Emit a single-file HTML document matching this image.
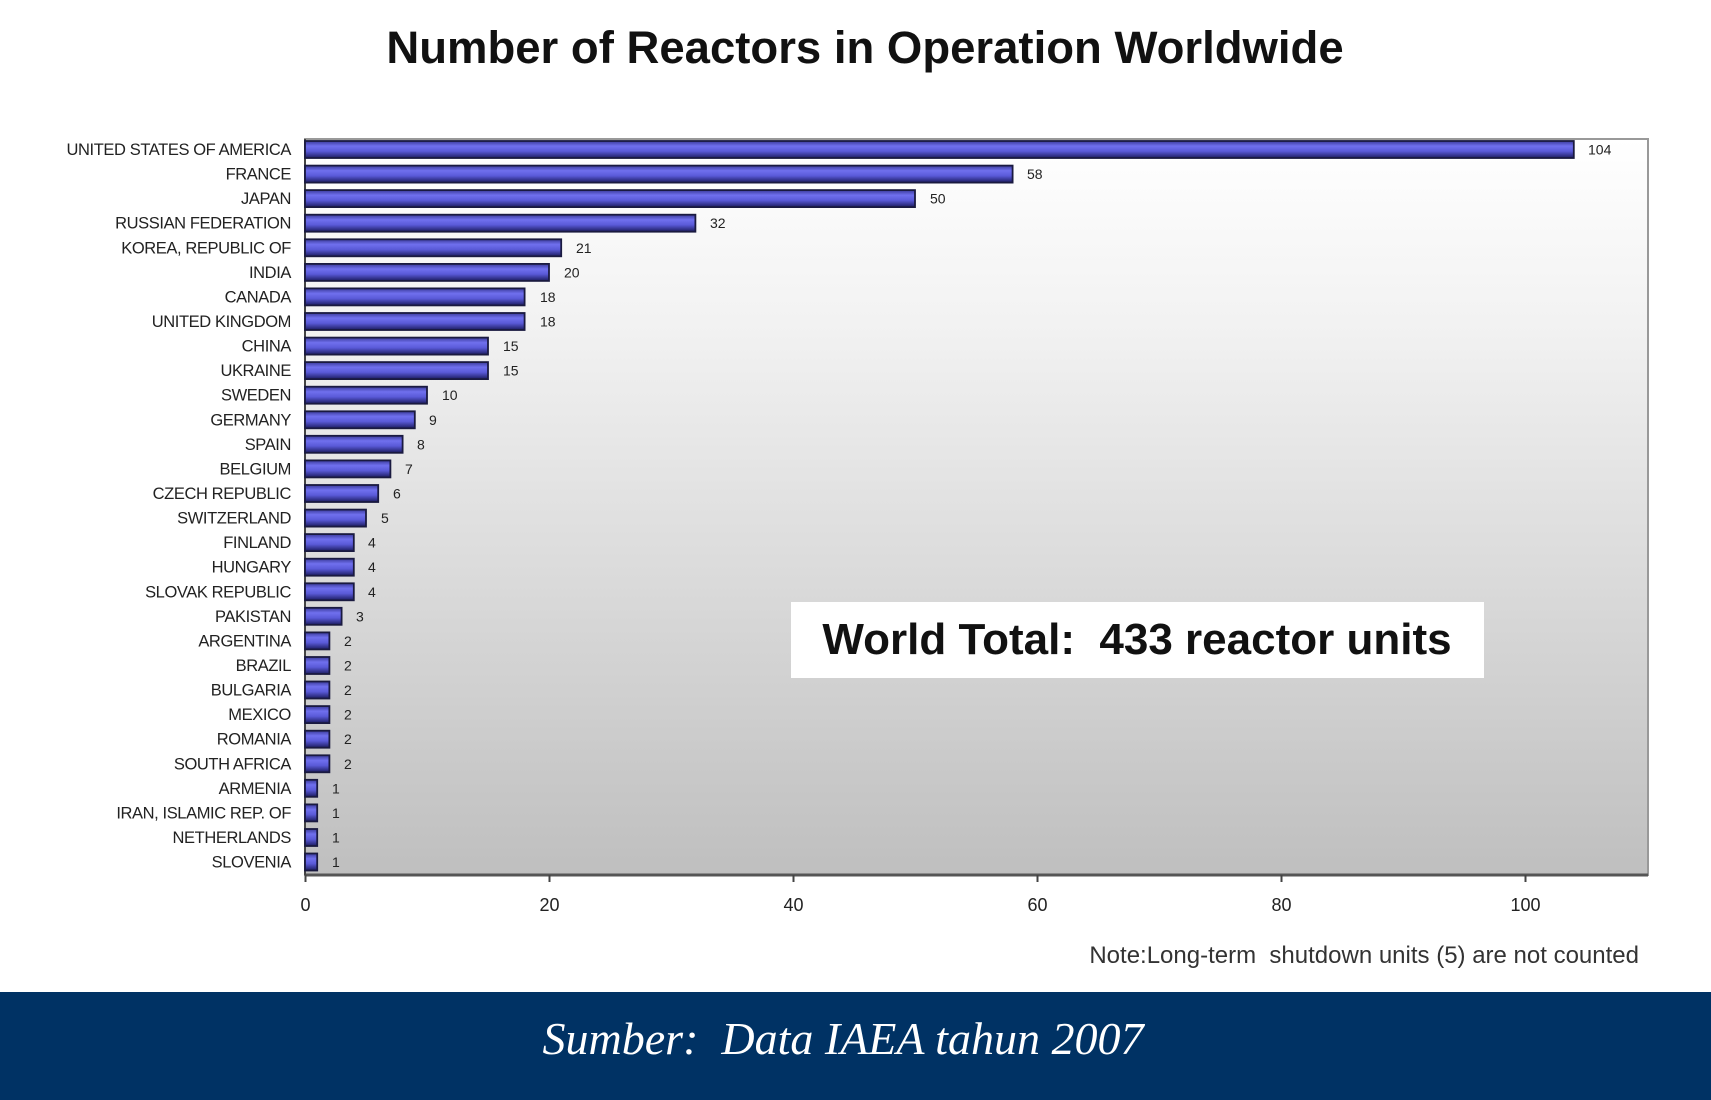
<!DOCTYPE html>
<html><head><meta charset="utf-8"><style>
html,body{margin:0;padding:0;background:#fff;}
svg{display:block;}
.l{font-family:"Liberation Sans",sans-serif;font-size:16.5px;fill:#222;letter-spacing:-0.4px;}
.v{font-family:"Liberation Sans",sans-serif;font-size:14px;fill:#222;}
</style></head><body>
<svg width="1711" height="1100" viewBox="0 0 1711 1100" xmlns="http://www.w3.org/2000/svg">
<defs>
<linearGradient id="bg" x1="0" y1="0" x2="0" y2="1"><stop offset="0" stop-color="#ffffff"/><stop offset="0.25" stop-color="#f2f2f2"/><stop offset="1" stop-color="#bfbfbf"/></linearGradient>
<linearGradient id="bar" x1="0" y1="0" x2="0" y2="1"><stop offset="0" stop-color="#3a3a9a"/><stop offset="0.3" stop-color="#7070ee"/><stop offset="0.6" stop-color="#5a5ad8"/><stop offset="1" stop-color="#1c1c60"/></linearGradient>
</defs>
<text x="865" y="63" text-anchor="middle" font-family="Liberation Sans, sans-serif" font-weight="bold" font-size="45.5" fill="#111">Number of Reactors in Operation Worldwide</text>
<rect x="305" y="139" width="1343" height="736" fill="url(#bg)" stroke="#999" stroke-width="2"/>
<line x1="305" y1="875" x2="1648" y2="875" stroke="#555" stroke-width="3"/>
<line x1="305" y1="139" x2="305" y2="875" stroke="#444" stroke-width="2"/>
<g stroke="#444" stroke-width="2">
<line x1="305.5" y1="875" x2="305.5" y2="882"/><line x1="549.5" y1="875" x2="549.5" y2="882"/><line x1="793.5" y1="875" x2="793.5" y2="882"/><line x1="1037.5" y1="875" x2="1037.5" y2="882"/><line x1="1281.5" y1="875" x2="1281.5" y2="882"/><line x1="1525.5" y1="875" x2="1525.5" y2="882"/>
</g>
<g font-family="Liberation Sans, sans-serif" font-size="18" fill="#222" text-anchor="middle">
<text x="305.5" y="911">0</text><text x="549.5" y="911">20</text><text x="793.5" y="911">40</text><text x="1037.5" y="911">60</text><text x="1281.5" y="911">80</text><text x="1525.5" y="911">100</text>
</g>
<g stroke="#1a1a40" stroke-width="1.8">
<rect x="305" y="141" width="1268.8" height="17" fill="url(#bar)"/>
<rect x="305" y="165.6" width="707.6" height="17" fill="url(#bar)"/>
<rect x="305" y="190.1" width="610" height="17" fill="url(#bar)"/>
<rect x="305" y="214.7" width="390.4" height="17" fill="url(#bar)"/>
<rect x="305" y="239.3" width="256.2" height="17" fill="url(#bar)"/>
<rect x="305" y="263.9" width="244" height="17" fill="url(#bar)"/>
<rect x="305" y="288.4" width="219.6" height="17" fill="url(#bar)"/>
<rect x="305" y="313" width="219.6" height="17" fill="url(#bar)"/>
<rect x="305" y="337.6" width="183" height="17" fill="url(#bar)"/>
<rect x="305" y="362.1" width="183" height="17" fill="url(#bar)"/>
<rect x="305" y="386.7" width="122" height="17" fill="url(#bar)"/>
<rect x="305" y="411.3" width="109.8" height="17" fill="url(#bar)"/>
<rect x="305" y="435.8" width="97.6" height="17" fill="url(#bar)"/>
<rect x="305" y="460.4" width="85.4" height="17" fill="url(#bar)"/>
<rect x="305" y="485" width="73.2" height="17" fill="url(#bar)"/>
<rect x="305" y="509.6" width="61" height="17" fill="url(#bar)"/>
<rect x="305" y="534.1" width="48.8" height="17" fill="url(#bar)"/>
<rect x="305" y="558.7" width="48.8" height="17" fill="url(#bar)"/>
<rect x="305" y="583.3" width="48.8" height="17" fill="url(#bar)"/>
<rect x="305" y="607.8" width="36.6" height="17" fill="url(#bar)"/>
<rect x="305" y="632.4" width="24.4" height="17" fill="url(#bar)"/>
<rect x="305" y="657" width="24.4" height="17" fill="url(#bar)"/>
<rect x="305" y="681.5" width="24.4" height="17" fill="url(#bar)"/>
<rect x="305" y="706.1" width="24.4" height="17" fill="url(#bar)"/>
<rect x="305" y="730.7" width="24.4" height="17" fill="url(#bar)"/>
<rect x="305" y="755.3" width="24.4" height="17" fill="url(#bar)"/>
<rect x="305" y="779.8" width="12.2" height="17" fill="url(#bar)"/>
<rect x="305" y="804.4" width="12.2" height="17" fill="url(#bar)"/>
<rect x="305" y="829" width="12.2" height="17" fill="url(#bar)"/>
<rect x="305" y="853.5" width="12.2" height="17" fill="url(#bar)"/>
</g>
<g class="l" text-anchor="end">
<text class="l" x="291" y="155">UNITED STATES OF AMERICA</text>
<text class="l" x="291" y="179.6">FRANCE</text>
<text class="l" x="291" y="204.1">JAPAN</text>
<text class="l" x="291" y="228.7">RUSSIAN FEDERATION</text>
<text class="l" x="291" y="253.3">KOREA, REPUBLIC OF</text>
<text class="l" x="291" y="277.9">INDIA</text>
<text class="l" x="291" y="302.4">CANADA</text>
<text class="l" x="291" y="327">UNITED KINGDOM</text>
<text class="l" x="291" y="351.6">CHINA</text>
<text class="l" x="291" y="376.1">UKRAINE</text>
<text class="l" x="291" y="400.7">SWEDEN</text>
<text class="l" x="291" y="425.3">GERMANY</text>
<text class="l" x="291" y="449.8">SPAIN</text>
<text class="l" x="291" y="474.4">BELGIUM</text>
<text class="l" x="291" y="499">CZECH REPUBLIC</text>
<text class="l" x="291" y="523.6">SWITZERLAND</text>
<text class="l" x="291" y="548.1">FINLAND</text>
<text class="l" x="291" y="572.7">HUNGARY</text>
<text class="l" x="291" y="597.3">SLOVAK REPUBLIC</text>
<text class="l" x="291" y="621.8">PAKISTAN</text>
<text class="l" x="291" y="646.4">ARGENTINA</text>
<text class="l" x="291" y="671">BRAZIL</text>
<text class="l" x="291" y="695.5">BULGARIA</text>
<text class="l" x="291" y="720.1">MEXICO</text>
<text class="l" x="291" y="744.7">ROMANIA</text>
<text class="l" x="291" y="769.3">SOUTH AFRICA</text>
<text class="l" x="291" y="793.8">ARMENIA</text>
<text class="l" x="291" y="818.4">IRAN, ISLAMIC REP. OF</text>
<text class="l" x="291" y="843">NETHERLANDS</text>
<text class="l" x="291" y="867.5">SLOVENIA</text>
</g>
<g class="v">
<text class="v" x="1588" y="154.5">104</text>
<text class="v" x="1027" y="179">58</text>
<text class="v" x="930" y="203.6">50</text>
<text class="v" x="710" y="228.2">32</text>
<text class="v" x="576" y="252.8">21</text>
<text class="v" x="564" y="277.4">20</text>
<text class="v" x="540" y="301.9">18</text>
<text class="v" x="540" y="326.5">18</text>
<text class="v" x="503" y="351.1">15</text>
<text class="v" x="503" y="375.6">15</text>
<text class="v" x="442" y="400.2">10</text>
<text class="v" x="429" y="424.8">9</text>
<text class="v" x="417" y="449.3">8</text>
<text class="v" x="405" y="473.9">7</text>
<text class="v" x="393" y="498.5">6</text>
<text class="v" x="381" y="523.1">5</text>
<text class="v" x="368" y="547.6">4</text>
<text class="v" x="368" y="572.2">4</text>
<text class="v" x="368" y="596.8">4</text>
<text class="v" x="356" y="621.3">3</text>
<text class="v" x="344" y="645.9">2</text>
<text class="v" x="344" y="670.5">2</text>
<text class="v" x="344" y="695">2</text>
<text class="v" x="344" y="719.6">2</text>
<text class="v" x="344" y="744.2">2</text>
<text class="v" x="344" y="768.8">2</text>
<text class="v" x="332" y="793.3">1</text>
<text class="v" x="332" y="817.9">1</text>
<text class="v" x="332" y="842.5">1</text>
<text class="v" x="332" y="867">1</text>
</g>
<rect x="791" y="602" width="693" height="76" fill="#fff"/>
<text x="1137" y="654" text-anchor="middle" font-family="Liberation Sans, sans-serif" font-weight="bold" font-size="44" fill="#111" xml:space="preserve">World Total:  433 reactor units</text>
<text x="1639" y="963" text-anchor="end" font-family="Liberation Sans, sans-serif" font-size="24" fill="#333" xml:space="preserve">Note:Long-term  shutdown units (5) are not counted</text>
<rect x="0" y="992" width="1711" height="108" fill="#003264"/>
<text x="843" y="1054" text-anchor="middle" font-family="Liberation Serif, serif" font-style="italic" font-size="46" fill="#fff" xml:space="preserve">Sumber:  Data IAEA tahun 2007</text>
</svg>
</body></html>
